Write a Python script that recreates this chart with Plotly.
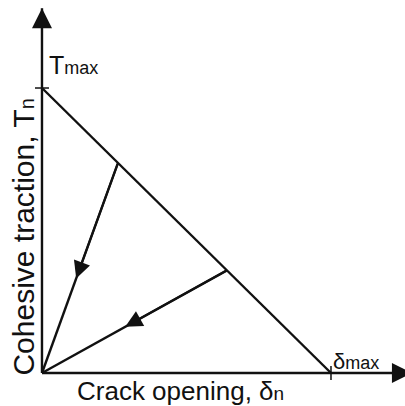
import plotly.graph_objects as go

# Bilinear cohesive law, normalised by its peak values
delta_max = 1.0          # critical crack opening
T_max = 1.0              # peak cohesive traction
axis_len = 1.28          # length of the drawn axes (normalised units)

# points on the softening branch from which unloading starts
unload_delta = [0.263, 0.64]
unload_T = [0.737, 0.36]

arrow_frac = 0.45        # where the unloading arrowheads sit along each path

FONT = "Arial, Liberation Sans, sans-serif"
INK = "#111111"
LW = 2.4

fig = go.Figure()

# axes
fig.add_trace(go.Scatter(x=[0, axis_len], y=[0, 0], mode="lines",
                         line=dict(color=INK, width=LW), hoverinfo="skip"))
fig.add_trace(go.Scatter(x=[0, 0], y=[0, axis_len], mode="lines",
                         line=dict(color=INK, width=LW), hoverinfo="skip"))

# softening branch
fig.add_trace(go.Scatter(x=[0, delta_max], y=[T_max, 0], mode="lines",
                         line=dict(color=INK, width=LW), hoverinfo="skip"))

# unloading paths back to the origin
for d, t in zip(unload_delta, unload_T):
    fig.add_trace(go.Scatter(x=[d, 0], y=[t, 0], mode="lines",
                             line=dict(color=INK, width=LW), hoverinfo="skip"))

# tick marks at T_max and delta_max
fig.add_trace(go.Scatter(x=[0], y=[T_max], mode="markers",
                         marker=dict(symbol="line-ew", size=10,
                                     line=dict(color=INK, width=1.5)),
                         hoverinfo="skip"))
fig.add_trace(go.Scatter(x=[delta_max], y=[0], mode="markers",
                         marker=dict(symbol="line-ns", size=10,
                                     line=dict(color=INK, width=1.5)),
                         hoverinfo="skip"))

annotations = []

# arrowheads on the axes
annotations.append(dict(x=axis_len, y=0, ax=0, ay=0, xref="x", yref="y",
                        axref="x", ayref="y", text="", showarrow=True,
                        arrowhead=2, arrowsize=2.0, arrowwidth=2,
                        arrowcolor=INK))
annotations.append(dict(x=0, y=axis_len, ax=0, ay=0, xref="x", yref="y",
                        axref="x", ayref="y", text="", showarrow=True,
                        arrowhead=2, arrowsize=2.0, arrowwidth=2,
                        arrowcolor=INK))

# arrowheads on the unloading paths
for d, t in zip(unload_delta, unload_T):
    annotations.append(dict(x=d * arrow_frac, y=t * arrow_frac, ax=d, ay=t,
                            xref="x", yref="y", axref="x", ayref="y",
                            text="", showarrow=True, arrowhead=2,
                            arrowsize=1.7, arrowwidth=2, arrowcolor=INK))

# value labels
annotations.append(dict(x=0, y=T_max, xref="x", yref="y",
                        text="T<span style='font-size:18px'>max</span>",
                        showarrow=False, xanchor="left", yanchor="bottom",
                        xshift=5, yshift=7,
                        font=dict(family=FONT, size=25, color=INK)))
annotations.append(dict(x=delta_max, y=0, xref="x", yref="y",
                        text="δ<span style='font-size:18px'>max</span>",
                        showarrow=False, xanchor="left", yanchor="bottom",
                        xshift=0, yshift=-3,
                        font=dict(family=FONT, size=22, color=INK)))

# axis titles
annotations.append(dict(x=0.445, y=0, xref="paper", yref="paper",
                        text="Crack opening, δ<span style='font-size:19px'>n</span>",
                        showarrow=False, xanchor="center", yanchor="bottom",
                        yshift=-2,
                        font=dict(family=FONT, size=26, color=INK)))
annotations.append(dict(x=0.059, y=0.417, xref="paper", yref="paper",
                        text="Cohesive traction, T<span style='font-size:20px'>n</span>",
                        showarrow=False, xanchor="center", yanchor="middle",
                        textangle=-90,
                        font=dict(family=FONT, size=30, color=INK)))

fig.update_layout(
    width=405, height=406,
    margin=dict(l=0, r=0, t=0, b=0),
    paper_bgcolor="white", plot_bgcolor="white",
    showlegend=False,
    annotations=annotations,
    xaxis=dict(range=[-0.1453, 1.2561], visible=False, fixedrange=True),
    yaxis=dict(range=[-0.1158, 1.3088], visible=False, fixedrange=True),
)

fig.write_html("out.html", config=dict(displayModeBar=False))
